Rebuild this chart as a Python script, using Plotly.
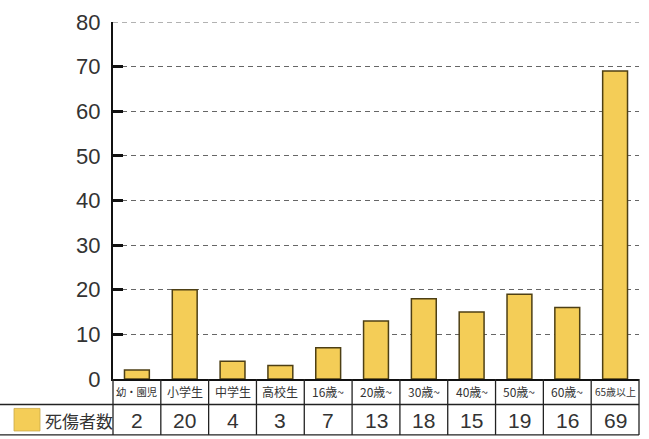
import plotly.graph_objects as go

categories = ["幼・園児", "小学生", "中学生", "高校生", "16歳~", "20歳~", "30歳~", "40歳~", "50歳~", "60歳~", "65歳以上"]
values = [2, 20, 4, 3, 7, 13, 18, 15, 19, 16, 69]
series_name = "死傷者数"
y_ticks = [0, 10, 20, 30, 40, 50, 60, 70, 80]

W, H = 649, 439
L, R, T, B = 113, 10, 15, 60
pw = W - L - R
ph = H - T - B

bar_color = "#F4CD57"
edge_color = "#4d3f14"
grid_dash = "5px,4px"

fig = go.Figure()
fig.add_trace(go.Bar(
    x=categories, y=values, name=series_name,
    marker=dict(color=bar_color, line=dict(color=edge_color, width=1.5)),
    showlegend=False,
))

n = len(categories)
def px_to_paper_x(px):
    return (px - L) / pw
def px_to_paper_y(py):
    return (H - B - py) / ph

def label_size(text, base=12, max_w=41):
    em = sum(0.56 if ord(ch) < 128 else 1.0 for ch in text)
    return min(base, max_w / em)

row1_bot = px_to_paper_y(405)
row2_bot = px_to_paper_y(436)
left_edge = px_to_paper_x(0)

line_style = dict(color="#222", width=1.3)
shapes = []
shapes.append(dict(type="line", xref="paper", yref="y", x0=0, x1=1, y0=y_ticks[-1], y1=y_ticks[-1],
                   line=dict(color="#666", width=1.2, dash=grid_dash), layer="below"))
shapes.append(dict(type="line", xref="paper", yref="paper", x0=left_edge, x1=1, y0=row1_bot, y1=row1_bot, line=line_style))
shapes.append(dict(type="line", xref="paper", yref="paper", x0=left_edge, x1=1, y0=row2_bot, y1=row2_bot, line=line_style))
for k in range(0, n + 1):
    xk = k / n
    shapes.append(dict(type="line", xref="paper", yref="paper", x0=xk, x1=xk, y0=0, y1=row2_bot, line=line_style))
shapes.append(dict(type="rect", xref="paper", yref="paper",
                   x0=px_to_paper_x(14), x1=px_to_paper_x(40),
                   y0=px_to_paper_y(432), y1=px_to_paper_y(409),
                   fillcolor=bar_color, line=dict(color="#c9a84a", width=0.8)))

annotations = []
for c, v in zip(categories, values):
    annotations.append(dict(x=c, xref="x", y=px_to_paper_y(392), yref="paper",
                            text=c, showarrow=False, xanchor="center", yanchor="middle",
                            font=dict(size=label_size(c), color="#333", family="Noto Sans CJK JP")))
    annotations.append(dict(x=c, xref="x", y=px_to_paper_y(421), yref="paper",
                            text=str(v), showarrow=False, xanchor="center", yanchor="middle",
                            font=dict(size=21, color="#333", family="Liberation Sans Narrow, Liberation Sans")))
annotations.append(dict(x=px_to_paper_x(43), xref="paper", y=px_to_paper_y(421), yref="paper",
                        text=series_name, showarrow=False, xanchor="left", yanchor="middle",
                        font=dict(size=17, color="#333", family="Noto Sans CJK JP")))

fig.update_layout(
    width=W, height=H,
    margin=dict(l=L, r=R, t=T, b=B),
    paper_bgcolor="white", plot_bgcolor="white",
    bargap=0.48,
    shapes=shapes, annotations=annotations,
    xaxis=dict(showticklabels=False, showline=True, linecolor="#111", linewidth=2,
               showgrid=False, ticks="", range=[-0.5, n - 0.5]),
    yaxis=dict(range=[0, 80], tickvals=y_ticks, showline=True, linecolor="#111", linewidth=2,
               ticks="inside", ticklen=10, tickwidth=3, tickcolor="#111",
               showgrid=True, gridcolor="#666", griddash=grid_dash, gridwidth=1.2,
               zeroline=False, ticklabelstandoff=6,
               tickfont=dict(size=22, color="#333", family="Liberation Sans")),
)

fig.write_html("out.html", config={"displayModeBar": False},
               post_script="document.body.style.margin='0';document.body.style.overflow='hidden';")
